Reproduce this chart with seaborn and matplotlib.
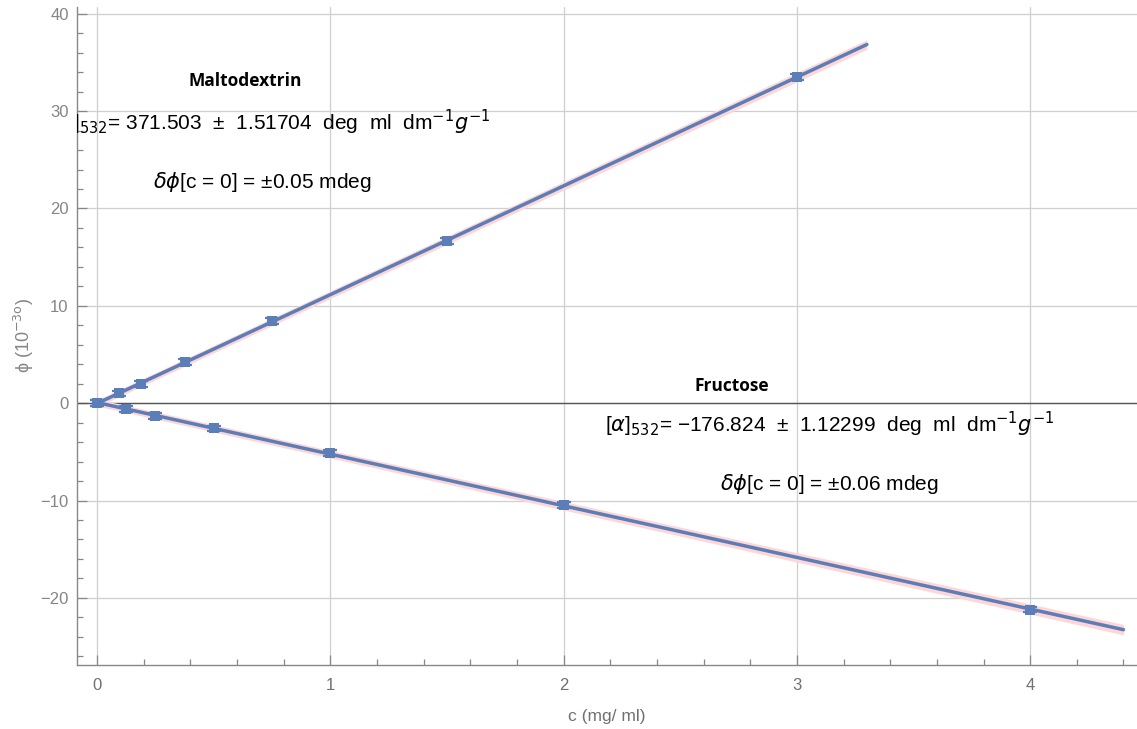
import numpy as np
import pandas as pd
import matplotlib
matplotlib.use("Agg")
import matplotlib.pyplot as plt
from matplotlib.ticker import MultipleLocator
import seaborn as sns

# ---------------- data ----------------
malto_c = [0.0, 0.09375, 0.1875, 0.375, 0.75, 1.5, 3.0]
malto_phi = [0.0, 1.0, 2.0, 4.2, 8.4, 16.7, 33.5]
fruc_c = [0.0, 0.125, 0.25, 0.5, 1.0, 2.0, 4.0]
fruc_phi = [0.0, -0.6, -1.3, -2.6, -5.1, -10.5, -21.2]
err = 0.3
malto_fit_range = [0.0, 3.3]
fruc_fit_range = [0.0, 4.4]
x_ticks = [0, 1, 2, 3, 4]
y_ticks = [-20, -10, 0, 10, 20, 30, 40]

blue = "#5b7db8"
pink = "#ffd6d6"

sns.set_theme(style="white")
plt.rcParams["font.family"] = ["Liberation Sans", "DejaVu Sans"]
plt.rcParams["mathtext.fontset"] = "dejavusans"

fig = plt.figure(figsize=(11.37, 7.29), dpi=100)
ax = fig.add_axes([77 / 1137, 64 / 729, 1 - 77 / 1137, (665 - 7) / 729])

df_m = pd.DataFrame({"c": malto_c, "phi": malto_phi})
df_f = pd.DataFrame({"c": fruc_c, "phi": fruc_phi})

for df, rng in [(df_m, malto_fit_range), (df_f, fruc_fit_range)]:
    k, b = np.polyfit(df["c"], df["phi"], 1)
    xs = np.linspace(rng[0], rng[1], 50)
    ys = k * xs + b
    half = 0.36 + 0.04 * xs
    ax.fill_between(xs, ys - half, ys + half, color=pink, lw=0, zorder=2)
    sns.lineplot(x=xs, y=ys, ax=ax, color=blue, lw=2.5, zorder=3)
    ax.errorbar(df["c"], df["phi"], yerr=err, fmt="none", ecolor=blue,
                elinewidth=1.6, capsize=5, capthick=1.6, zorder=4)
    sns.scatterplot(data=df, x="c", y="phi", ax=ax, marker="s", s=60,
                    color=blue, edgecolor=blue, linewidth=0, zorder=5)

ax.axhline(0, color="#555555", lw=1.0, zorder=1)

ax.set_xlim(-0.086, 4.458)
ax.set_ylim(-26.9, 40.7)
ax.set_xticks(x_ticks)
ax.set_yticks(y_ticks)
ax.set_yticklabels([str(v).replace("-", "\u2212") for v in y_ticks])
ax.xaxis.set_minor_locator(MultipleLocator(0.2))
ax.yaxis.set_minor_locator(MultipleLocator(2))
ax.grid(True, which="major", color="#cfcfcf", lw=0.9, zorder=0)
ax.tick_params(which="both", direction="in", left=True, bottom=True,
               color="#888888", width=0.9)
ax.tick_params(which="major", length=7)
ax.tick_params(which="minor", length=4)
ax.tick_params(axis="y", labelsize=12, labelcolor="#858585", pad=6)
ax.tick_params(axis="x", labelsize=12, labelcolor="#707070", pad=9)
for s in ["top", "right"]:
    ax.spines[s].set_visible(False)
for s in ["left", "bottom"]:
    ax.spines[s].set_color("#888888")
    ax.spines[s].set_linewidth(1.0)

ax.set_xlabel("c (mg/ ml)", color="#707070", fontsize=12.5, labelpad=12)
ax.set_ylabel(r"ϕ (10$^{-3\mathrm{o}}$)", color="#858585", fontsize=13, labelpad=3)

# annotations
bold_font = ["Open Sans", "Liberation Sans", "DejaVu Sans"]
ax.text(0.634, 33.1, "Maltodextrin", fontsize=12.5, fontweight="bold", family=bold_font,
        ha="center", va="center", color="black", zorder=6)
# left part of this label is cut off by the plot frame in the original
ax.text(-0.103, 28.8, r"]$_{532}$= 371.503  ±  1.51704  deg  ml  dm$^{-1}$$g^{-1}$",
        fontsize=15, ha="left", va="center", color="black", clip_on=True, zorder=6)
ax.text(0.707, 22.7, r"$\delta\phi$[c = 0] = ±0.05 mdeg", fontsize=15,
        ha="center", va="center", color="black", zorder=6)
ax.text(2.72, 1.75, "Fructose", fontsize=12.5, fontweight="bold", family=bold_font,
        ha="center", va="center", color="black", zorder=6)
ax.text(3.14, -2.15, "[$\\alpha$]$_{532}$= \u2212176.824  ±  1.12299  deg  ml  dm$^{-1}$$g^{-1}$",
        fontsize=15, ha="center", va="center", color="black", zorder=6)
ax.text(3.14, -8.3, r"$\delta\phi$[c = 0] = ±0.06 mdeg", fontsize=15,
        ha="center", va="center", color="black", zorder=6)

fig.savefig("out.png", dpi=100)
